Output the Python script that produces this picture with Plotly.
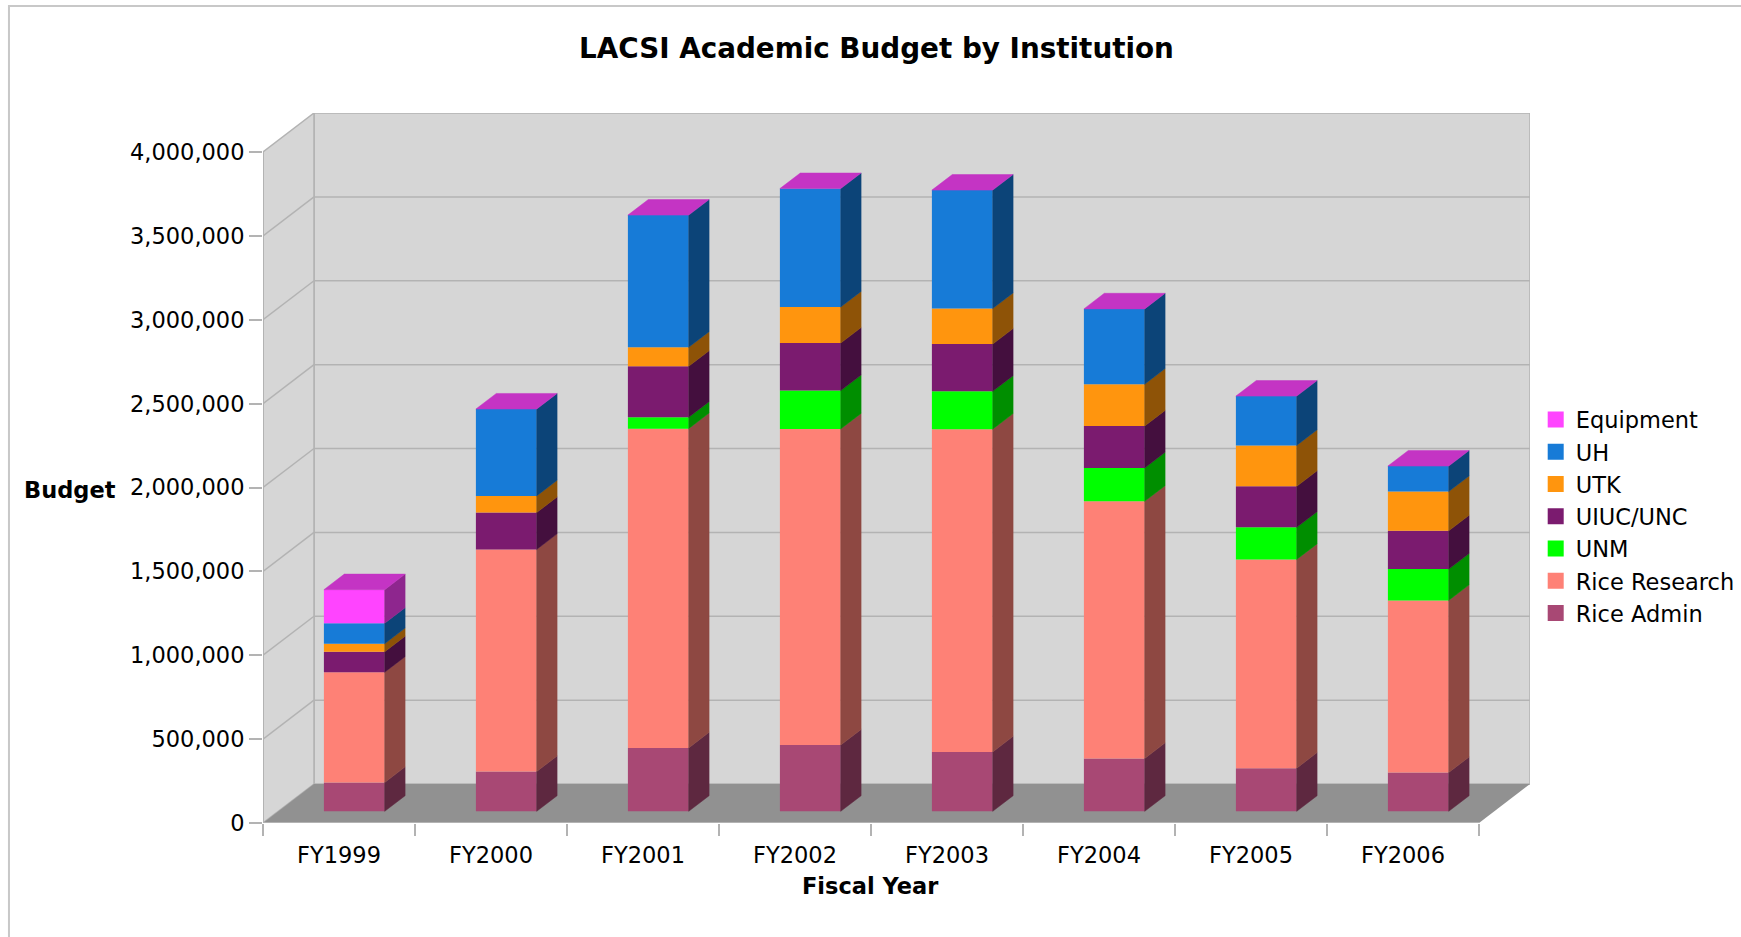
import plotly.graph_objects as go

# ---------------- data ----------------
years = ["FY1999", "FY2000", "FY2001", "FY2002", "FY2003", "FY2004", "FY2005", "FY2006"]
rice_admin = [172000, 237000, 378000, 395000, 354000, 315000, 257000, 231000]
rice_research = [657000, 1324000, 1903000, 1884000, 1924000, 1533000, 1244000, 1026000]
unm = [0, 0, 68000, 229000, 226000, 199000, 192000, 187000]
uiuc_unc = [122000, 220000, 304000, 283000, 281000, 250000, 244000, 228000]
utk = [48000, 99000, 113000, 215000, 212000, 249000, 244000, 234000]
uh = [122000, 518000, 788000, 706000, 706000, 449000, 294000, 152000]
equipment = [200000, 0, 0, 0, 0, 0, 0, 0]

series_names = ["Rice Admin", "Rice Research", "UNM", "UIUC/UNC", "UTK", "UH", "Equipment"]
series_values = [rice_admin, rice_research, unm, uiuc_unc, utk, uh, equipment]
series_colors = ["#a84874", "#fe8176", "#00ff00", "#7b1b6f", "#ff950e", "#177bd7", "#ff44ff"]

y_ticks = [0, 500000, 1000000, 1500000, 2000000, 2500000, 3000000, 3500000, 4000000]
y_max = 4000000

# ---------------- 3D look (oblique projection) ----------------
DX = 51 / 152            # depth offset in category units for full depth
DY = 39 / 167.75 * 1e6   # depth offset in value units for full depth
D0, D1 = 0.30, 0.70      # bar depth range
BW = 0.40                # bar width in category units

GRID = "#b3b3b3"
WALL = "#d6d6d6"
FLOOR = "#919191"
FONT = "DejaVu Sans"


def shade(hex_color, f):
    h = hex_color.lstrip("#")
    r, g, b = (int(h[i:i + 2], 16) for i in (0, 2, 4))
    return "#%02x%02x%02x" % (int(r * f), int(g * f), int(b * f))


def P(c, v, d):
    return c + d * DX, v + d * DY


fig = go.Figure()

n = len(years)
cum = [0] * n
for name, vals, col in zip(series_names, series_values, series_colors):
    xs_f, bases = [], []
    sx, sy = [], []
    for i in range(n):
        lo, hi = cum[i], cum[i] + vals[i]
        cx = i + 0.5
        xs_f.append(cx + D0 * DX)
        bases.append(lo + D0 * DY)
        if vals[i] > 0:
            cr = cx + BW / 2
            for (c, v, d) in [(cr, lo, D0), (cr, hi, D0), (cr, hi, D1), (cr, lo, D1), (cr, lo, D0)]:
                px, py = P(c, v, d)
                sx.append(px)
                sy.append(py)
            sx.append(None)
            sy.append(None)
    # front faces
    fig.add_trace(go.Bar(
        x=xs_f, y=vals, base=bases, width=BW, name=name,
        marker=dict(color=col, line=dict(width=0)),
        hoverinfo="skip", showlegend=False,
    ))
    # side faces
    fig.add_trace(go.Scatter(
        x=sx, y=sy, mode="lines", fill="toself", fillcolor=shade(col, 0.56),
        line=dict(color=shade(col, 0.56), width=0.5), showlegend=False, hoverinfo="skip",
    ))
    # legend entry (square key)
    fig.add_trace(go.Scatter(
        x=[None], y=[None], mode="markers", name=name,
        marker=dict(symbol="square", size=16, color=col, line=dict(width=0)),
        showlegend=True, hoverinfo="skip",
    ))
    cum = [cum[i] + vals[i] for i in range(n)]

# top faces (top-most series colour)
tx, ty = [], []
for i in range(n):
    cx = i + 0.5
    cl, cr = cx - BW / 2, cx + BW / 2
    T = cum[i]
    for (c, v, d) in [(cl, T, D0), (cr, T, D0), (cr, T, D1), (cl, T, D1), (cl, T, D0)]:
        px, py = P(c, v, d)
        tx.append(px)
        ty.append(py)
    tx.append(None)
    ty.append(None)
fig.add_trace(go.Scatter(
    x=tx, y=ty, mode="lines", fill="toself", fillcolor=shade(series_colors[-1], 0.77),
    line=dict(color=shade(series_colors[-1], 0.77), width=0.5), showlegend=False, hoverinfo="skip",
))

# ---------------- walls, floor, grid ----------------
shapes = []


def poly(pts, fill, line_color=None, width=0):
    path = "M " + " L ".join("%f,%f" % p for p in pts) + " Z"
    return dict(type="path", path=path, xref="x", yref="y", fillcolor=fill,
                line=dict(color=line_color or fill, width=width), layer="below")


# back wall
shapes.append(poly([P(0, 0, 1), P(n, 0, 1), P(n, y_max, 1), P(0, y_max, 1)], WALL, GRID, 1.5))
# left wall
shapes.append(poly([P(0, 0, 0), P(0, 0, 1), P(0, y_max, 1), P(0, y_max, 0)], WALL, GRID, 1.5))
# floor
shapes.append(poly([P(0, 0, 0), P(n, 0, 0), P(n, 0, 1), P(0, 0, 1)], FLOOR, FLOOR, 0))
# grid lines
for v in y_ticks[1:-1]:
    a, b = P(0, v, 1), P(n, v, 1)
    shapes.append(dict(type="line", xref="x", yref="y", x0=a[0], y0=a[1], x1=b[0], y1=b[1],
                       line=dict(color=GRID, width=1.5), layer="below"))
    a, b = P(0, v, 0), P(0, v, 1)
    shapes.append(dict(type="line", xref="x", yref="y", x0=a[0], y0=a[1], x1=b[0], y1=b[1],
                       line=dict(color=GRID, width=1.5), layer="below"))
# front axis lines
shapes.append(dict(type="line", xref="x", yref="y", x0=0, y0=0, x1=0, y1=y_max,
                   line=dict(color=GRID, width=2), layer="above"))
shapes.append(dict(type="line", xref="x", yref="y", x0=0, y0=0, x1=n, y1=0,
                   line=dict(color=GRID, width=2), layer="above"))
# outer border
shapes.append(dict(type="rect", xref="paper", yref="paper", x0=-0.2005, y0=-0.3, x1=1.3, y1=1.1507,
                   line=dict(color="#c8c8c8", width=2), layer="below"))

fig.update_layout(
    width=1741, height=937, autosize=False,
    margin=dict(l=263, r=211, t=113, b=114, autoexpand=False),
    paper_bgcolor="white", plot_bgcolor="rgba(0,0,0,0)",
    barmode="overlay",
    shapes=shapes,
    font=dict(family=FONT, size=22.5, color="black"),
    xaxis=dict(
        range=[0, n + DX], showgrid=False, zeroline=False, showline=False,
        tickmode="array", tickvals=[i + 0.5 for i in range(n)], ticktext=years,
        ticks="outside", ticklen=12, tickcolor="rgba(0,0,0,0)",
        minor=dict(tickmode="array", tickvals=list(range(n + 1)), ticks="outside",
                   ticklen=12, tickcolor=GRID, tickwidth=1.5, showgrid=False),
        tickfont=dict(family=FONT, size=22.5), fixedrange=True,
    ),
    yaxis=dict(
        range=[0, y_max + DY], showgrid=False, zeroline=False, showline=False,
        tickmode="array", tickvals=y_ticks, tickformat=",d",
        ticks="outside", ticklen=13, tickcolor=GRID, tickwidth=1.5,
        tickfont=dict(family=FONT, size=22.5), fixedrange=True,
    ),
    legend=dict(
        x=1.0045, xanchor="left", y=0.4317, yanchor="middle",
        traceorder="reversed", font=dict(family=FONT, size=22.5),
        bgcolor="rgba(0,0,0,0)", borderwidth=0, itemsizing="trace",
    ),
    annotations=[
        dict(text="<b>LACSI Academic Budget by Institution</b>", xref="paper", yref="paper",
             x=0.4844, y=1.0915, xanchor="center", yanchor="middle", showarrow=False,
             font=dict(family=FONT, size=27.8)),
        dict(text="<b>Budget</b>", xref="paper", yref="paper",
             x=-0.1527, y=0.469, xanchor="center", yanchor="middle", showarrow=False,
             font=dict(family=FONT, size=22.5)),
        dict(text="<b>Fiscal Year</b>", xref="paper", yref="paper",
             x=0.4791, y=-0.0887, xanchor="center", yanchor="middle", showarrow=False,
             font=dict(family=FONT, size=22.5)),
    ],
    showlegend=True,
)

fig.write_html("out.html", config={"displayModeBar": False},
               post_script="document.body.style.margin='0';")
